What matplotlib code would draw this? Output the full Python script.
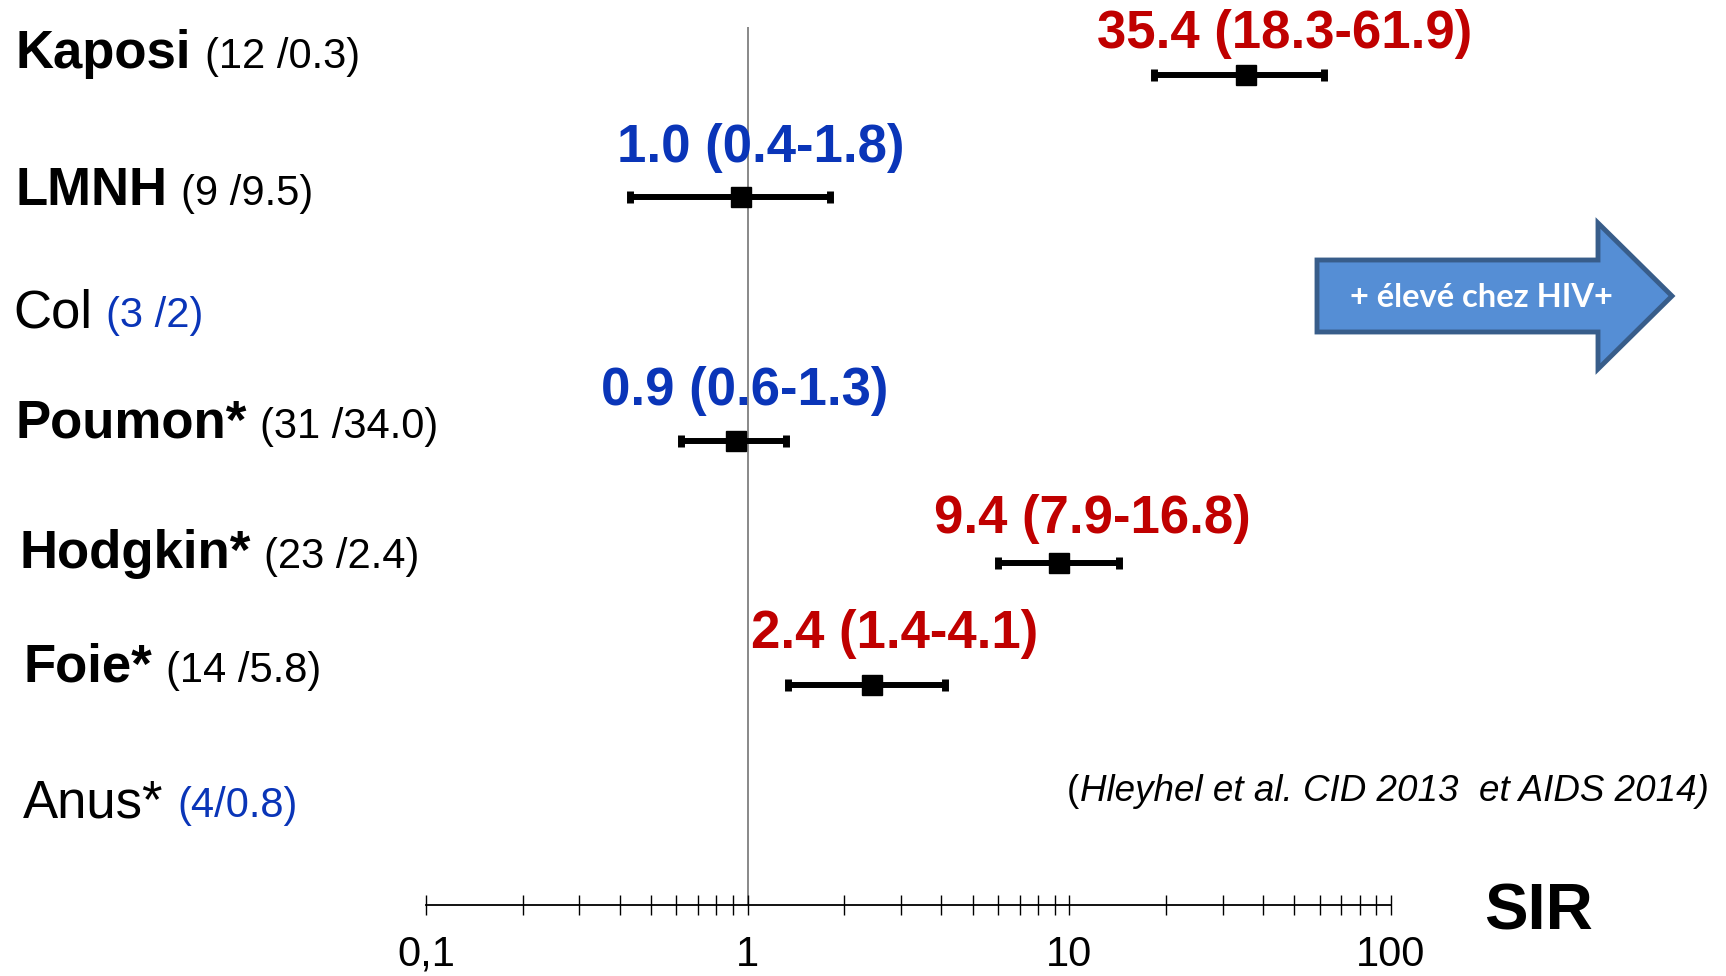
#!/usr/bin/env python3

import numpy as np
import matplotlib.pyplot as plt
from matplotlib.patches import Polygon
from matplotlib.ticker import LogLocator, NullFormatter

W, H = 1726, 976
DPI = 100

RED = "#C00000"
BLUE = "#0A35B8"

# data
cancers = ["Kaposi", "LMNH", "Col", "Poumon*", "Hodgkin*", "Foie*", "Anus*"]
counts = ["(12 /0.3)", "(9 /9.5)", "(3 /2)", "(31 /34.0)", "(23 /2.4)", "(14 /5.8)", "(4/0.8)"]
bold_name = [True, True, False, True, True, True, False]
count_blue = [False, False, True, False, False, False, True]

# SIR and 95% CI as drawn (nan = no bar shown)
sir = np.array([35.4, 0.95, np.nan, 0.92, 9.3, 2.43, np.nan])
ci_low = np.array([18.3, 0.43, np.nan, 0.62, 6.0, 1.33, np.nan])
ci_high = np.array([61.9, 1.8, np.nan, 1.32, 14.3, 4.1, np.nan])
sir_labels = ["35.4 (18.3-61.9)", "1.0 (0.4-1.8)", "", "0.9 (0.6-1.3)",
              "9.4 (7.9-16.8)", "2.4 (1.4-4.1)", ""]
sir_red = [True, False, False, False, True, True, False]

tick_values = [0.1, 1, 10, 100]
tick_labels = ["0,1", "1", "10", "100"]

# layout (pixels, from top-left)
name_x = [15, 15, 13, 15, 19, 23, 23]
name_base = [68, 205, 327, 438, 568, 682, 817]
sir_label_x = [1285, 761, 0, 745, 1092, 895, 0]
sir_label_base = [48, 162, 0, 405, 533, 648, 0]


def fx(x):
    return x / W


def fy(y):
    return 1 - y / H


plt.rcParams["font.family"] = ["Liberation Sans", "DejaVu Sans"]

fig = plt.figure(figsize=(W / DPI, H / DPI), dpi=DPI)
ax = fig.add_axes([fx(426), 71 / H, (1391 - 426) / W, (905 - 27) / H])
ax.set_xscale("log")
ax.set_xlim(0.1, 100)
ax.set_ylim(6.803, -0.393)

rows = np.arange(len(cancers))
m = ~np.isnan(sir)
ax.errorbar(sir[m], rows[m], xerr=[sir[m] - ci_low[m], ci_high[m] - sir[m]],
            fmt="s", color="black", ms=14, elinewidth=4.3,
            capsize=4.3, capthick=5, zorder=3)
ax.axvline(1, color="#7f7f7f", lw=1.3, zorder=1)

for s in ["top", "left", "right"]:
    ax.spines[s].set_visible(False)
ax.spines["bottom"].set_linewidth(1.3)
ax.set_yticks([])
ax.set_xticks(tick_values)
ax.set_xticklabels(tick_labels)
ax.xaxis.set_minor_locator(LogLocator(base=10, subs=range(2, 10)))
ax.xaxis.set_minor_formatter(NullFormatter())
ax.tick_params(axis="x", which="both", direction="inout", length=15,
               width=1, color="black", labelsize=30, pad=14)

fig.text(fx(1484), fy(930), "SIR", fontsize=47, fontweight="bold", va="baseline")

# value labels above the bars
for i, lab in enumerate(sir_labels):
    if not lab:
        continue
    fig.text(fx(sir_label_x[i]), fy(sir_label_base[i]), lab, fontsize=38,
             fontweight="bold", color=RED if sir_red[i] else BLUE,
             ha="center", va="baseline")

# row labels: name + (observed / expected)
r = fig.canvas.get_renderer()
for i, name in enumerate(cancers):
    t = fig.text(fx(name_x[i]), fy(name_base[i]), name, fontsize=38,
                 fontweight="bold" if bold_name[i] else "normal", va="baseline")
    bb = t.get_window_extent(renderer=r)
    fig.text((bb.x1 + 14) / W, fy(name_base[i]), counts[i], fontsize=30,
             color=BLUE if count_blue[i] else "black", va="baseline")

# arrow
arrow_pts = [(1317, 260), (1598, 260), (1598, 223), (1672, 296),
             (1598, 369), (1598, 332), (1317, 332)]
arrow = Polygon([(fx(x), fy(y)) for x, y in arrow_pts], closed=True,
                transform=fig.transFigure, facecolor="#558ED5",
                edgecolor="#385D8A", lw=3.5, joinstyle="miter")
fig.add_artist(arrow)
fig.text(fx(1481), fy(307), "+ élevé chez HIV+", fontsize=23.5, fontweight="bold",
         color="white", ha="center", va="baseline", family=["Lato", "DejaVu Sans"])

# reference
t = fig.text(fx(1067), fy(801), "(", fontsize=26.5, va="baseline")
bb = t.get_window_extent(renderer=r)
fig.text((bb.x1 + 1) / W, fy(801), "Hleyhel et al. CID 2013  et AIDS 2014)",
         fontsize=26.5, style="italic", va="baseline")

fig.savefig("out.png", dpi=DPI)
